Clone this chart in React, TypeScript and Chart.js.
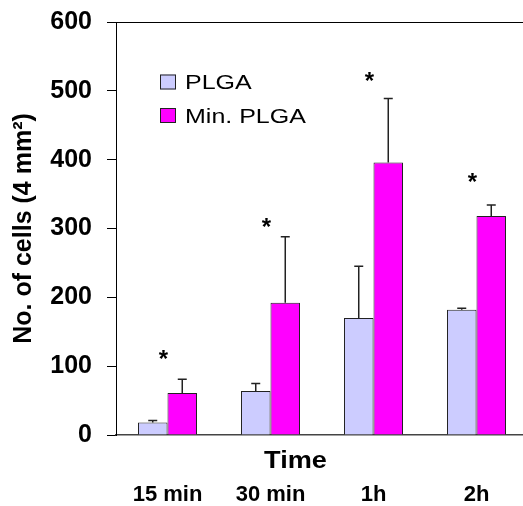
import React, { useEffect, useRef } from 'react';
import { Chart, registerables } from 'chart.js';

Chart.register(...registerables);

const categories = ['15 min', '30 min', '1h', '2h'];
const seriesLabels = ['PLGA', 'Min. PLGA'];
const plgaValues = [18, 64, 170, 182];
const plgaErrors = [3, 11, 75, 2];
const minPlgaValues = [61, 192, 396, 318];
const minPlgaErrors = [20, 96, 93, 16];
const starValues = [118, 310, 523, 376];
const yMin = 0;
const yMax = 600;
const yStep = 100;
const xTitle = 'Time';
const yTitle = 'No. of cells (4 mm\u00B2)';

const FONT = "'Liberation Sans', Arial, sans-serif";
const colors = ['#CCCCFF', '#FF00FF'];

const errorBarPlugin = {
  id: 'errorBars',
  afterDatasetsDraw(chart: any) {
    const ctx = chart.ctx;
    const yScale = chart.scales.y;
    chart.data.datasets.forEach((ds: any, i: number) => {
      const meta = chart.getDatasetMeta(i);
      meta.data.forEach((bar: any, j: number) => {
        const v = ds.data[j];
        const e = ds.errors[j];
        const top = yScale.getPixelForValue(v + e);
        ctx.save();
        ctx.strokeStyle = '#222';
        ctx.lineWidth = 1.5;
        ctx.beginPath();
        ctx.moveTo(bar.x, bar.y);
        ctx.lineTo(bar.x, top);
        ctx.moveTo(bar.x - 4.5, top);
        ctx.lineTo(bar.x + 4.5, top);
        ctx.stroke();
        ctx.restore();
      });
    });
  },
};

const annotationsPlugin = {
  id: 'annotations',
  afterDraw(chart: any) {
    const ctx = chart.ctx;
    const xScale = chart.scales.x;
    const yScale = chart.scales.y;
    const area = chart.chartArea;
    ctx.save();
    // asterisks
    ctx.fillStyle = '#000';
    ctx.font = `bold 24px ${FONT}`;
    ctx.textAlign = 'center';
    ctx.textBaseline = 'alphabetic';
    starValues.forEach((v, j) => {
      const x = xScale.getPixelForValue(j) - 4;
      const y = yScale.getPixelForValue(v) + 13.5;
      ctx.fillText('*', x, y);
    });
    // legend
    const lx = area.left + 44;
    const rows = [82, 115.5];
    seriesLabels.forEach((label, i) => {
      const cy = rows[i];
      ctx.fillStyle = colors[i];
      ctx.fillRect(lx, cy - 7.5, 16, 15);
      ctx.strokeStyle = '#222';
      ctx.lineWidth = 1;
      ctx.strokeRect(lx + 0.5, cy - 7, 15, 14);
      ctx.save();
      ctx.translate(lx + 25, cy + 7);
      ctx.scale(1.25, 1);
      ctx.fillStyle = '#000';
      ctx.font = `20px ${FONT}`;
      ctx.textAlign = 'left';
      ctx.textBaseline = 'alphabetic';
      ctx.fillText(label, 0, 0);
      ctx.restore();
    });
    // x title above the category labels
    ctx.save();
    ctx.translate(area.left + 179.5, area.bottom + 33);
    ctx.scale(1.13, 1);
    ctx.fillStyle = '#000';
    ctx.font = `bold 24px ${FONT}`;
    ctx.textAlign = 'center';
    ctx.textBaseline = 'alphabetic';
    ctx.fillText(xTitle, 0, 0);
    ctx.restore();
    ctx.restore();
  },
};

export default function App() {
  const ref = useRef<HTMLCanvasElement | null>(null);
  useEffect(() => {
    if (!ref.current) return;
    Chart.defaults.font.family = FONT;
    Chart.defaults.color = '#000';
    const chart = new Chart(ref.current, {
      type: 'bar',
      data: {
        labels: categories,
        datasets: [
          {
            label: seriesLabels[0],
            data: plgaValues,
            errors: plgaErrors,
            backgroundColor: colors[0],
            borderColor: '#222',
            borderWidth: 1,
            barPercentage: 1,
            categoryPercentage: 0.573,
          } as any,
          {
            label: seriesLabels[1],
            data: minPlgaValues,
            errors: minPlgaErrors,
            backgroundColor: colors[1],
            borderColor: '#222',
            borderWidth: 1,
            barPercentage: 1,
            categoryPercentage: 0.573,
          } as any,
        ],
      },
      options: {
        animation: false,
        responsive: false,
        layout: { padding: { top: 22, left: 0, right: 0, bottom: 0 } },
        plugins: {
          legend: { display: false },
          tooltip: { enabled: false },
        },
        scales: {
          x: {
            grid: { display: false, drawTicks: false },
            border: { display: true, color: '#444', width: 1.5 },
            ticks: {
              color: '#000',
              font: { size: 22, weight: 'bold' },
              padding: 46.5,
              maxRotation: 0,
            },
            afterFit(scale: any) {
              scale.height = 71;
              scale.paddingLeft = 0;
              scale.paddingRight = 0;
            },
          },
          y: {
            min: yMin,
            max: yMax,
            ticks: {
              stepSize: yStep,
              color: '#000',
              font: { size: 25, weight: 'bold' },
              padding: 15,
            },
            grid: {
              color: (c: any) => (c.tick && c.tick.value === yMax ? '#000' : 'rgba(0,0,0,0)'),
              tickColor: '#000',
              tickLength: 9,
              lineWidth: 1,
            },
            border: { display: true, color: '#000', width: 1 },
            title: {
              display: true,
              text: yTitle,
              color: '#000',
              font: { size: 25, weight: 'bold' },
              padding: { top: 9, bottom: 0 },
            },
            afterFit(scale: any) {
              scale.width = 116;
              scale.paddingTop = 0;
              scale.paddingBottom = 0;
            },
          },
        },
      } as any,
      plugins: [errorBarPlugin, annotationsPlugin],
    });
    return () => chart.destroy();
  }, []);
  return (
    <div
      style={{
        position: 'fixed',
        left: 0,
        top: 0,
        width: 523,
        height: 506,
        overflow: 'hidden',
        background: '#fff',
      }}
    >
      <canvas ref={ref} width={528} height={506} style={{ display: 'block' }} />
    </div>
  );
}
